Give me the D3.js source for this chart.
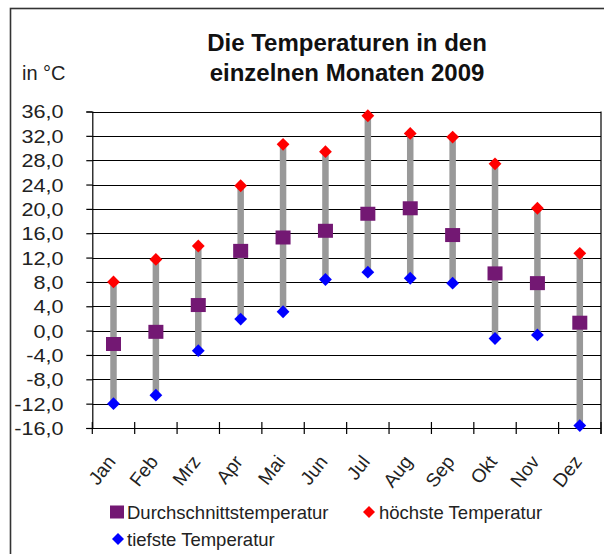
<!DOCTYPE html>
<html>
<head>
<meta charset="utf-8">
<script src="https://cdn.jsdelivr.net/npm/d3@7"></script>
<style>
  body { margin: 0; background: #fff; }
  svg { display: block; font-family: "Liberation Sans", Arial, sans-serif; }
</style>
</head>
<body>
<div id="chart"></div>
<script>
// Monatswerte 2009
var months = ["Jan", "Feb", "Mrz", "Apr", "Mai", "Jun", "Jul", "Aug", "Sep", "Okt", "Nov", "Dez"];
var highTemp = [8.0, 11.7, 13.9, 23.8, 30.6, 29.4, 35.3, 32.4, 31.8, 27.4, 20.1, 12.7];
var avgTemp = [-2.2, -0.2, 4.2, 13.1, 15.3, 16.4, 19.2, 20.1, 15.7, 9.4, 7.8, 1.3];
var lowTemp = [-12.0, -10.6, -3.3, 1.9, 3.1, 8.4, 9.6, 8.6, 7.8, -1.3, -0.7, -15.6];
var yTicks = [-16, -12, -8, -4, 0, 4, 8, 12, 16, 20, 24, 28, 32, 36];

var width = 604, height = 554;
var svg = d3.select("#chart").append("svg")
    .attr("width", width)
    .attr("height", height);

// outer frame (runs off the right and bottom edge like in the picture)
svg.append("rect")
    .attr("x", 10.5).attr("y", 8.5)
    .attr("width", 610).attr("height", 560)
    .attr("fill", "none")
    .attr("stroke", "#333")
    .attr("stroke-width", 1.6);

var x = d3.scaleBand()
    .domain(months)
    .range([92.3, 601]);

var y = d3.scaleLinear()
    .domain([-16, 36])
    .range([428, 111.5]);

var data = months.map(function (m, i) {
    return { month: m, high: highTemp[i], avg: avgTemp[i], low: lowTemp[i] };
});

// title
svg.append("text")
    .attr("x", 347).attr("y", 51)
    .attr("text-anchor", "middle")
    .attr("font-size", 24).attr("font-weight", "bold")
    .attr("fill", "#111")
    .text("Die Temperaturen in den");
svg.append("text")
    .attr("x", 347).attr("y", 81)
    .attr("text-anchor", "middle")
    .attr("font-size", 24).attr("font-weight", "bold")
    .attr("fill", "#111")
    .text("einzelnen Monaten 2009");

svg.append("text")
    .attr("x", 22).attr("y", 80)
    .attr("font-size", 20)
    .attr("fill", "#222")
    .text("in °C");

// gridlines
svg.append("g")
    .selectAll("line")
    .data(yTicks)
    .enter().append("line")
    .attr("x1", x.range()[0]).attr("x2", x.range()[1])
    .attr("y1", function (d) { return Math.round(y(d)) + 0.5; })
    .attr("y2", function (d) { return Math.round(y(d)) + 0.5; })
    .attr("stroke", "#000")
    .attr("stroke-width", 1.2);

// right border of plot area
svg.append("line")
    .attr("x1", x.range()[1]).attr("x2", x.range()[1])
    .attr("y1", y(36)).attr("y2", y(-16) + 6)
    .attr("stroke", "#000").attr("stroke-width", 1.2);

// y axis
var yAxis = svg.append("g")
    .attr("transform", "translate(" + x.range()[0] + ",0)")
    .call(d3.axisLeft(y)
        .tickValues(yTicks)
        .tickSize(6)
        .tickFormat(function (d) { return d.toFixed(1).replace(".", ","); }));
yAxis.select(".domain").attr("stroke", "#000").attr("stroke-width", 1.2);
yAxis.selectAll(".tick line").attr("stroke", "#000").attr("stroke-width", 1.2);
yAxis.selectAll(".tick text")
    .attr("x", -24)
    .attr("dy", "0.36em")
    .attr("transform", "scale(1.2,1)")
    .attr("font-size", 18)
    .attr("font-family", "Liberation Sans, Arial, sans-serif")
    .attr("fill", "#222");

// x axis ticks at the category borders (crossing the axis)
var borders = months.map(function (m) { return x(m); }).concat([x.range()[1]]);
svg.append("g")
    .selectAll("line")
    .data(borders)
    .enter().append("line")
    .attr("x1", function (d) { return d; })
    .attr("x2", function (d) { return d; })
    .attr("y1", y(-16) - 6).attr("y2", y(-16) + 6)
    .attr("stroke", "#000").attr("stroke-width", 1.2);

// x labels
svg.append("g")
    .selectAll("text")
    .data(months)
    .enter().append("text")
    .attr("transform", function (d) {
        return "translate(" + (x(d) + x.bandwidth() / 2 + 3) + "," + 462 + ") rotate(-52)";
    })
    .attr("text-anchor", "end")
    .attr("font-size", 19)
    .attr("fill", "#222")
    .text(function (d) { return d; });

// high-low bars
svg.append("g")
    .selectAll("line")
    .data(data)
    .enter().append("line")
    .attr("x1", function (d) { return x(d.month) + x.bandwidth() / 2; })
    .attr("x2", function (d) { return x(d.month) + x.bandwidth() / 2; })
    .attr("y1", function (d) { return y(d.low); })
    .attr("y2", function (d) { return y(d.high); })
    .attr("stroke", "#999")
    .attr("stroke-width", 6.5);

var diamond = d3.symbol().type(d3.symbolSquare).size(82);

// average squares
svg.append("g")
    .selectAll("rect")
    .data(data)
    .enter().append("rect")
    .attr("x", function (d) { return x(d.month) + x.bandwidth() / 2 - 7.5; })
    .attr("y", function (d) { return y(d.avg) - 7; })
    .attr("width", 15).attr("height", 14)
    .attr("fill", "#731873");

// highest
svg.append("g")
    .selectAll("path")
    .data(data)
    .enter().append("path")
    .attr("d", diamond)
    .attr("transform", function (d) {
        return "translate(" + (x(d.month) + x.bandwidth() / 2) + "," + y(d.high) + ") rotate(45)";
    })
    .attr("fill", "#ff0000");

// lowest
svg.append("g")
    .selectAll("path")
    .data(data)
    .enter().append("path")
    .attr("d", diamond)
    .attr("transform", function (d) {
        return "translate(" + (x(d.month) + x.bandwidth() / 2) + "," + y(d.low) + ") rotate(45)";
    })
    .attr("fill", "#0000ff");

// legend
var legend = svg.append("g").attr("font-size", 18.5).attr("fill", "#222");
legend.append("rect")
    .attr("x", 110).attr("y", 505.5)
    .attr("width", 14).attr("height", 13)
    .attr("fill", "#731873");
legend.append("text").attr("x", 127).attr("y", 518.5).text("Durchschnittstemperatur");
legend.append("path")
    .attr("d", d3.symbol().type(d3.symbolSquare).size(72))
    .attr("transform", "translate(369,512) rotate(45)")
    .attr("fill", "#ff0000");
legend.append("text").attr("x", 379).attr("y", 518.5).text("höchste Temperatur");
legend.append("path")
    .attr("d", d3.symbol().type(d3.symbolSquare).size(72))
    .attr("transform", "translate(118,539) rotate(45)")
    .attr("fill", "#0000ff");
legend.append("text").attr("x", 127).attr("y", 545.5).text("tiefste Temperatur");
</script>
</body>
</html>
